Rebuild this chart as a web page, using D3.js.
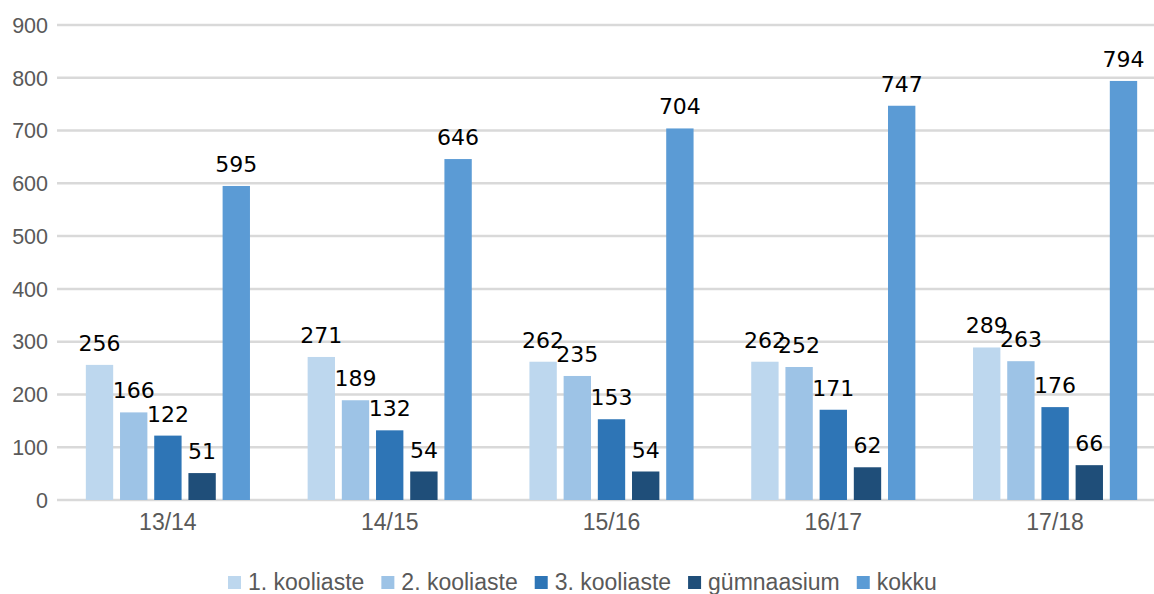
<!DOCTYPE html>
<html><head><meta charset="utf-8">
<script src="https://cdn.jsdelivr.net/npm/d3@7"></script>
<style>body{margin:0;background:#fff;overflow:hidden}svg{display:block}</style>
</head><body>
<svg id="c" width="1154" height="594"></svg>
<script>
const categories = ["13/14","14/15","15/16","16/17","17/18"];
const seriesNames = ["1. kooliaste","2. kooliaste","3. kooliaste","gümnaasium","kokku"];
const kooliaste1 = [256,271,262,262,289];
const kooliaste2 = [166,189,235,252,263];
const kooliaste3 = [122,132,153,171,176];
const gymnaasium = [51,54,54,62,66];
const kokku = [595,646,704,747,794];
const yTicks = [0,100,200,300,400,500,600,700,800,900];
const colors = ["#BDD7EE","#9DC3E6","#2E75B6","#1F4E79","#5B9BD5"];
const seriesValues = [kooliaste1,kooliaste2,kooliaste3,gymnaasium,kokku];

(function(){
const svg = d3.select("#c");
const pL = 57, pR = 1166, pT = 25, pB = 500;
const x = d3.scaleBand().domain(categories).range([pL,pR]).paddingInner(0).paddingOuter(0);
const inner = x.bandwidth()*0.74;
const xs = d3.scaleBand().domain(seriesNames).range([0,inner]).paddingInner(0.2).paddingOuter(0);
const y = d3.scaleLinear().domain([0,900]).range([pB,pT]);

svg.append("g").selectAll("line").data(yTicks).join("line")
  .attr("x1",pL).attr("x2",1154).attr("y1",d=>y(d)).attr("y2",d=>y(d))
  .attr("stroke","#D9D9D9").attr("stroke-width",2.5);

svg.append("g").selectAll("text").data(yTicks).join("text")
  .attr("x",48).attr("y",d=>y(d)).attr("dy","0.36em").attr("text-anchor","end")
  .attr("font-family","Liberation Sans, Arial, sans-serif").attr("font-size",21.5).attr("fill","#595959")
  .text(d=>d);

svg.append("g").selectAll("text").data(categories).join("text")
  .attr("x",d=>x(d)+x.bandwidth()/2).attr("y",530).attr("text-anchor","middle")
  .attr("font-family","Liberation Sans, Arial, sans-serif").attr("font-size",23).attr("fill","#595959")
  .text(d=>d);

const data = [];
seriesNames.forEach((s,si)=>categories.forEach((c,ci)=>data.push({s,si,c,v:seriesValues[si][ci]})));
const off = (x.bandwidth()-inner)/2;

svg.append("g").selectAll("rect").data(data).join("rect")
  .attr("x",d=>x(d.c)+off+xs(d.s)).attr("width",xs.bandwidth())
  .attr("y",d=>y(d.v)).attr("height",d=>y(0)-y(d.v))
  .attr("fill",d=>colors[d.si]);

svg.append("g").selectAll("text").data(data).join("text")
  .attr("x",d=>x(d.c)+off+xs(d.s)+xs.bandwidth()/2).attr("y",d=>y(d.v)-14)
  .attr("text-anchor","middle")
  .attr("font-family","DejaVu Sans, sans-serif").attr("font-size",22).attr("fill","#000")
  .text(d=>d.v);

const lg = svg.append("g");
let lx = 228;
seriesNames.forEach((s,i)=>{
  lg.append("rect").attr("x",lx).attr("y",576).attr("width",13).attr("height",13).attr("fill",colors[i]);
  const t = lg.append("text").attr("x",lx+20).attr("y",590)
    .attr("font-family","Liberation Sans, Arial, sans-serif").attr("font-size",23).attr("fill","#595959").text(s);
  lx += 20 + t.node().getComputedTextLength() + 17;
});
})();
</script>
</body></html>
